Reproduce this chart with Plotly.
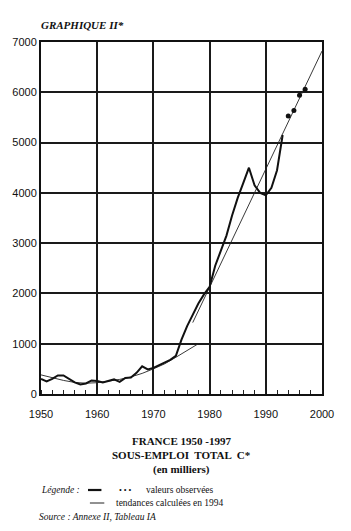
import plotly.graph_objects as go

# Observed total underemployment (thousands)
obs_years = [1950, 1951, 1952, 1953, 1954, 1955, 1956, 1957, 1958, 1959, 1960, 1961,
             1962, 1963, 1964, 1965, 1966, 1967, 1968, 1969, 1970, 1971, 1972, 1973,
             1974, 1975, 1976, 1977, 1978, 1979, 1980, 1981, 1982, 1983, 1984, 1985,
             1986, 1987, 1988, 1989, 1990, 1991, 1992, 1993]
obs_values = [300, 250, 300, 370, 370, 300, 230, 190, 210, 270, 260, 230,
              260, 290, 240, 320, 330, 420, 550, 490, 520, 570, 620, 680,
              760, 1080, 1350, 1580, 1800, 1980, 2130, 2550, 2850, 3150, 3550, 3900,
              4200, 4500, 4150, 4000, 3950, 4100, 4450, 5150]
dot_years = [1994, 1995, 1996, 1997]
dot_values = [5530, 5640, 5940, 6060]

# Trends computed in 1994
trend1_years = [1950, 1952, 1954, 1956, 1958, 1960, 1962, 1964, 1966, 1968, 1970, 1972, 1974, 1976, 1978]
trend1_values = [380, 320, 270, 230, 215, 225, 250, 290, 340, 410, 500, 600, 730, 860, 1000]
trend2_years = [1977, 2000]
trend2_values = [1420, 6820]

x_ticks = [1950, 1960, 1970, 1980, 1990, 2000]
y_ticks = [0, 1000, 2000, 3000, 4000, 5000, 6000, 7000]

serif = "Liberation Serif"
narrow = "Liberation Sans Narrow, Liberation Sans, Arial, sans-serif"

fig = go.Figure()
fig.add_trace(go.Scatter(x=trend1_years, y=trend1_values, mode="lines",
                         line=dict(color="#222", width=0.9), showlegend=False))
fig.add_trace(go.Scatter(x=trend2_years, y=trend2_values, mode="lines",
                         line=dict(color="#222", width=0.9), showlegend=False))
fig.add_trace(go.Scatter(x=obs_years, y=obs_values, mode="lines",
                         line=dict(color="#111", width=2), showlegend=False))
fig.add_trace(go.Scatter(x=dot_years, y=dot_values, mode="markers",
                         marker=dict(color="#111", size=5), showlegend=False))

fig.update_layout(
    width=351, height=531,
    margin=dict(l=29, r=29, t=42, b=137),
    paper_bgcolor="white", plot_bgcolor="white",
    showlegend=False,
    xaxis=dict(range=[1950, 2000], tickvals=x_ticks, ticktext=[str(v) for v in x_ticks],
               showgrid=True, gridcolor="#1a1a1a", gridwidth=1.6,
               showline=True, linecolor="#111", linewidth=2, mirror=True,
               ticks="", zeroline=False, ticklabelstandoff=9,
               tickfont=dict(family=narrow, size=11, color="#111"),
               minor=dict(dtick=2, tick0=1950, ticks="inside", ticklen=4,
                          tickcolor="#222", tickwidth=1, showgrid=False)),
    yaxis=dict(range=[0, 7000], tickvals=y_ticks, ticktext=[str(v) for v in y_ticks],
               showgrid=True, gridcolor="#1a1a1a", gridwidth=1.6,
               showline=True, linecolor="#111", linewidth=2, mirror=True,
               ticks="", zeroline=False,
               tickfont=dict(family=narrow, size=11, color="#111")),
)

def px(x):
    return (x - 29) / 293.0

def py(y):
    return (394 - y) / 352.0

ann = []
ann.append(dict(text="<b><i>GRAPHIQUE II*</i></b>", x=px(27), y=py(25), xanchor="left",
                yanchor="middle", font=dict(family=serif, size=11, color="#111")))
for t, yy in [("<b>FRANCE 1950 -1997</b>", 441), ("<b>SOUS-EMPLOI  TOTAL  C*</b>", 455),
              ("<b>(en milliers)</b>", 469)]:
    ann.append(dict(text=t, x=px(175), y=py(yy), xanchor="center", yanchor="middle",
                    font=dict(family=serif, size=11, color="#111")))
ann.append(dict(text="<i>Légende :</i>", x=px(27), y=py(490), xanchor="left", yanchor="middle",
                font=dict(family=serif, size=9.5, color="#111")))
ann.append(dict(text="• • •", x=px(108), y=py(490), xanchor="left", yanchor="middle",
                font=dict(family=serif, size=8, color="#111")))
ann.append(dict(text="valeurs observées", x=px(136), y=py(490), xanchor="left", yanchor="middle",
                font=dict(family=serif, size=9.5, color="#111")))
ann.append(dict(text="tendances calculées en 1994", x=px(105), y=py(503), xanchor="left",
                yanchor="middle", font=dict(family=serif, size=9.5, color="#111")))
ann.append(dict(text="<i>Source : Annexe II, Tableau IA</i>", x=px(25), y=py(517), xanchor="left",
                yanchor="middle", font=dict(family=serif, size=9.5, color="#111")))
for a in ann:
    a.update(xref="paper", yref="paper", showarrow=False)
fig.update_layout(annotations=ann)

fig.add_shape(type="line", xref="paper", yref="paper", x0=px(78), x1=px(92), y0=py(490), y1=py(490),
              line=dict(color="#111", width=2.2))
fig.add_shape(type="line", xref="paper", yref="paper", x0=px(80), x1=px(95), y0=py(503), y1=py(503),
              line=dict(color="#222", width=1))

fig.write_html("out.html")
